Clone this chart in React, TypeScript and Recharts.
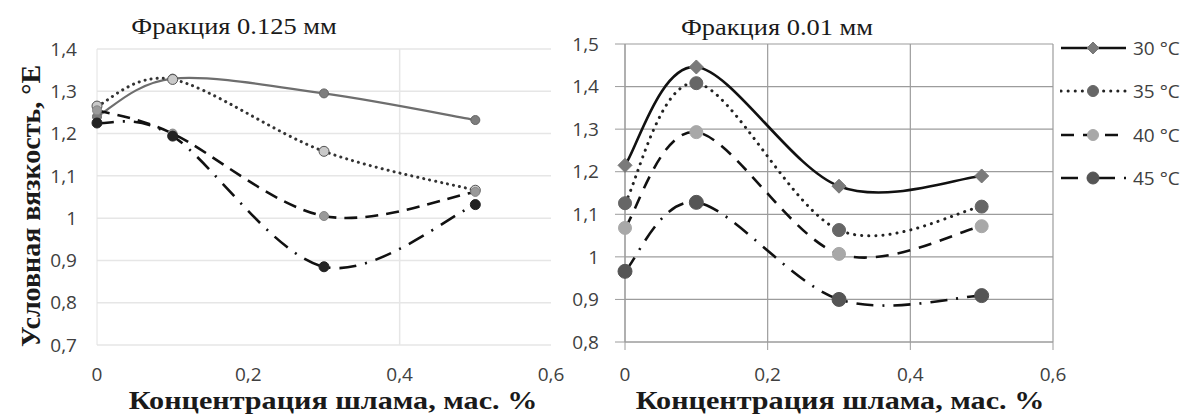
import React from 'react';
import { LineChart, Line, XAxis, YAxis, CartesianGrid, Legend } from 'recharts';

// concentration, mass %
const conc = [0, 0.1, 0.3, 0.5];
const tempNames = ['30 °C', '35 °C', '40 °C', '45 °C'];

// fraction 0.125 mm
const coarse30 = [1.24, 1.33, 1.295, 1.232];
const coarse35 = [1.265, 1.328, 1.158, 1.066];
const coarse40 = [1.255, 1.2, 1.005, 1.062];
const coarse45 = [1.225, 1.194, 0.885, 1.032];

// fraction 0.01 mm
const fine30 = [1.215, 1.446, 1.166, 1.19];
const fine35 = [1.126, 1.408, 1.063, 1.118];
const fine40 = [1.068, 1.293, 1.007, 1.072];
const fine45 = [0.966, 1.128, 0.9, 0.909];

const xTicks = [0, 0.2, 0.4, 0.6];
const coarseTicks = [0.7, 0.8, 0.9, 1, 1.1, 1.2, 1.3, 1.4];
const fineTicks = [0.8, 0.9, 1, 1.1, 1.2, 1.3, 1.4, 1.5];

const keys = ['t30', 't35', 't40', 't45'];

const toRows = (cols: number[][]) =>
  conc.map((x, i) => {
    const row: any = { x };
    keys.forEach((k, j) => (row[k] = cols[j][i]));
    return row;
  });

const coarseData = toRows([coarse30, coarse35, coarse40, coarse45]);
const fineData = toRows([fine30, fine35, fine40, fine45]);

const fmt = (v: number) => String(+Number(v).toFixed(1)).replace('.', ',');

// Excel-like smoothed line (Catmull-Rom through the points)
function smoothCurve(context: any) {
  let pts: number[][] = [];
  return {
    areaStart() {},
    areaEnd() {},
    lineStart() {
      pts = [];
    },
    lineEnd() {
      if (!pts.length) return;
      context.moveTo(pts[0][0], pts[0][1]);
      for (let i = 0; i < pts.length - 1; i++) {
        const p0 = pts[Math.max(i - 1, 0)];
        const p1 = pts[i];
        const p2 = pts[i + 1];
        const p3 = pts[Math.min(i + 2, pts.length - 1)];
        context.bezierCurveTo(
          p1[0] + (p2[0] - p0[0]) / 6,
          p1[1] + (p2[1] - p0[1]) / 6,
          p2[0] - (p3[0] - p1[0]) / 6,
          p2[1] - (p3[1] - p1[1]) / 6,
          p2[0],
          p2[1]
        );
      }
    },
    point(x: number, y: number) {
      pts.push([+x, +y]);
    },
  };
}

type Mark = { shape: 'circle' | 'diamond'; size: number; fill: string; stroke: string };

const makeDot = (m: Mark) => (p: any) => {
  const { cx, cy, index } = p;
  if (cx == null || cy == null) return <g key={index} />;
  if (m.shape === 'diamond') {
    const s = m.size;
    return (
      <polygon
        key={index}
        points={`${cx},${cy - s} ${cx + s},${cy} ${cx},${cy + s} ${cx - s},${cy}`}
        fill={m.fill}
        stroke={m.stroke}
        strokeWidth={1}
      />
    );
  }
  return <circle key={index} cx={cx} cy={cy} r={m.size} fill={m.fill} stroke={m.stroke} strokeWidth={1} />;
};

type LineStyle = { color: string; width: number; dash?: string; cap?: 'round' | 'butt'; mark: Mark };

const coarseStyles: LineStyle[] = [
  { color: '#6e6e6e', width: 2.2, mark: { shape: 'circle', size: 4.5, fill: '#7d7d7d', stroke: '#666' } },
  { color: '#333', width: 3, dash: '0.1 6', cap: 'round', mark: { shape: 'circle', size: 5, fill: '#c9c9c9', stroke: '#555' } },
  { color: '#111', width: 2.6, dash: '13 8', mark: { shape: 'circle', size: 4.5, fill: '#9a9a9a', stroke: '#888' } },
  { color: '#111', width: 2.6, dash: '17 9 2 9', mark: { shape: 'circle', size: 5, fill: '#222', stroke: '#222' } },
];

const fineStyles: LineStyle[] = [
  { color: '#111', width: 2.6, mark: { shape: 'diamond', size: 7, fill: '#7a7a7a', stroke: '#777' } },
  { color: '#222', width: 3, dash: '0.1 7', cap: 'round', mark: { shape: 'circle', size: 6.5, fill: '#666', stroke: '#666' } },
  { color: '#111', width: 2.6, dash: '13 9', mark: { shape: 'circle', size: 6.5, fill: '#a8a8a8', stroke: '#a8a8a8' } },
  { color: '#111', width: 2.6, dash: '17 9 2 9', mark: { shape: 'circle', size: 7, fill: '#555', stroke: '#555' } },
];

const tickFont = { fontFamily: '"Open Sans", sans-serif', fontSize: 19, fill: '#404040' };

const FineLegend = () => (
  <div style={{ display: 'flex', flexDirection: 'column' }}>
    {tempNames.map((name, i) => {
      const st = fineStyles[i];
      return (
        <div key={name} style={{ height: 43.5, display: 'flex', alignItems: 'center', whiteSpace: 'nowrap' }}>
          <svg width={68} height={20} style={{ display: 'block' }}>
            <line
              x1={1}
              x2={66}
              y1={10}
              y2={10}
              stroke={st.color}
              strokeWidth={st.width}
              strokeDasharray={st.dash}
              strokeLinecap={st.cap || 'butt'}
            />
            {makeDot({ ...st.mark, size: st.mark.size - 1 })({ cx: 33, cy: 10, index: 0 })}
          </svg>
          <span style={{ fontFamily: tickFont.fontFamily, color: '#404040', marginLeft: 5, fontSize: 19 }}>{name}</span>
        </div>
      );
    })}
  </div>
);

const renderLines = (styles: LineStyle[]) =>
  keys.map((k, i) => {
    const st = styles[i];
    return (
      <Line
        key={k}
        dataKey={k}
        name={tempNames[i]}
        type={smoothCurve as any}
        stroke={st.color}
        strokeWidth={st.width}
        strokeDasharray={st.dash}
        strokeLinecap={st.cap || 'butt'}
        dot={makeDot(st.mark)}
        activeDot={false}
        isAnimationActive={false}
      />
    );
  });

const serif = '"Liberation Serif", "Times New Roman", serif';

const Text = ({ x, y, size, bold, rotate, stretch = 1, children }: any) => (
  <div
    style={{
      position: 'absolute',
      left: x,
      top: y,
      transform: `translate(-50%, -50%)${rotate ? ' rotate(-90deg)' : ''} scaleX(${stretch})`,
      fontFamily: serif,
      fontSize: size,
      fontWeight: bold ? 700 : 400,
      color: '#1a1a1a',
      whiteSpace: 'nowrap',
      lineHeight: 1,
    }}
  >
    {children}
  </div>
);

export default function App() {
  return (
    <div
      style={{
        position: 'fixed',
        left: 0,
        top: 0,
        width: 1184,
        height: 416,
        overflow: 'hidden',
        background: '#fff',
      }}
    >
      <div style={{ position: 'absolute', left: 0, top: 0 }}>
        <LineChart width={600} height={416} data={coarseData} margin={{ top: 49, right: 49, bottom: 41, left: 0 }}>
          <CartesianGrid stroke="#e6e6e6" strokeWidth={1.5} verticalValues={[0.4]} />
          <XAxis
            dataKey="x"
            type="number"
            domain={[0, 0.6]}
            ticks={xTicks}
            tickFormatter={fmt}
            height={30}
            axisLine={false}
            tickLine={false}
            tickSize={0}
            tickMargin={23}
            tick={tickFont}
          />
          <YAxis
            type="number"
            domain={[0.7, 1.4]}
            ticks={coarseTicks}
            tickFormatter={fmt}
            width={97}
            axisLine={{ stroke: '#e2e2e2' }}
            tickLine={false}
            tickSize={0}
            tickMargin={20}
            tick={tickFont}
            allowDataOverflow
          />
          {renderLines(coarseStyles)}
        </LineChart>
      </div>

      <div style={{ position: 'absolute', left: 560, top: 0 }}>
        <LineChart width={624} height={416} data={fineData} margin={{ top: 44, right: 131, bottom: 44, left: 0 }}>
          <CartesianGrid stroke="#9c9c9c" strokeWidth={1.2} />
          <XAxis
            dataKey="x"
            type="number"
            domain={[0, 0.6]}
            ticks={xTicks}
            tickFormatter={fmt}
            height={30}
            axisLine={{ stroke: '#9c9c9c' }}
            tickLine={{ stroke: '#9c9c9c' }}
            tickSize={8}
            tickMargin={18}
            tick={tickFont}
          />
          <YAxis
            type="number"
            domain={[0.8, 1.5]}
            ticks={fineTicks}
            tickFormatter={fmt}
            width={65}
            axisLine={{ stroke: '#9c9c9c' }}
            tickLine={{ stroke: '#9c9c9c' }}
            tickSize={10}
            tickMargin={16}
            tick={tickFont}
            allowDataOverflow
          />
          <Legend
            layout="horizontal"
            verticalAlign="middle"
            align="center"
            content={() => <FineLegend />}
            wrapperStyle={{ left: 500, top: 26, width: 160, height: 176 }}
          />
          {renderLines(fineStyles)}
        </LineChart>
      </div>

      <Text x={234} y={26} size={23} stretch={1.15}>Фракция 0.125 мм</Text>
      <Text x={777} y={27} size={23} stretch={1.15}>Фракция 0.01 мм</Text>
      <Text x={333} y={401} size={26} bold stretch={1.16}>Концентрация шлама, мас. %</Text>
      <Text x={840} y={401} size={26} bold stretch={1.16}>Концентрация шлама, мас. %</Text>
      <Text x={31} y={206} size={28} bold rotate>Условная вязкость, °E</Text>
    </div>
  );
}
